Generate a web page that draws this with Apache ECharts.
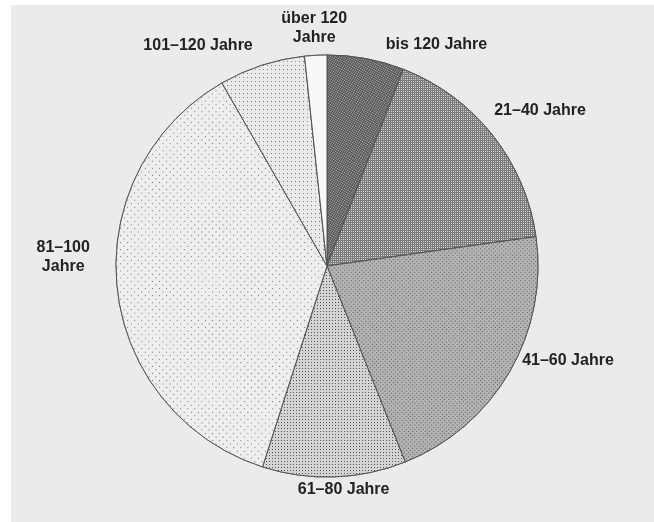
<!DOCTYPE html>
<html>
<head>
<meta charset="utf-8">
<script src="https://cdn.jsdelivr.net/npm/echarts@6/dist/echarts.min.js"></script>
<style>
  html, body { margin: 0; padding: 0; background: #ffffff; }
  #chart { position: absolute; left: 11px; top: 5px; width: 643px; height: 517px; background: #ebebeb; }
</style>
</head>
<body>
<div id="chart"></div>
<script>
// Data
var categories = ['bis 120 Jahre', '21\u201340 Jahre', '41\u201360 Jahre', '61\u201380 Jahre', '81\u2013100\nJahre', '101\u2013120 Jahre', '\u00fcber 120\nJahre'];
var shares = [5.9, 16.9, 21.2, 11.0, 36.8, 6.6, 1.7];

// Styling (not data)
var fills = ['#555555', '#7a7a7a', '#b4b4b4', '#d4d4d4', '#eeeeee', '#ebebeb', '#f8f8f8'];
var dotColors = ['#bbbbbb', '#d8d8d8', '#555555', '#555555', '#777777', '#888888', null];
var dotGaps = [1, 1, 2, 2, 4, 3, 0];
var labelShift = [[13, -4], [-11, -18], [-1, -16], [4, 3], [-39, -32], [-1, -10], [4, -17]];
var labelAligns = ['left', 'left', 'left', 'center', 'center', 'right', 'center'];

var data = categories.map(function (name, i) {
  var item = {
    name: name,
    value: shares[i],
    itemStyle: { color: fills[i] }
  };
  if (dotColors[i]) {
    item.itemStyle.decal = {
      symbol: 'rect',
      symbolSize: 1,
      color: dotColors[i],
      backgroundColor: fills[i],
      dashArrayX: [1, dotGaps[i]],
      dashArrayY: [1, dotGaps[i]]
    };
  } else {
    item.itemStyle.decal = { symbol: 'none', backgroundColor: fills[i], color: 'rgba(0,0,0,0)' };
  }
  return item;
});

var chart = echarts.init(document.getElementById('chart'), null, { renderer: 'canvas' });
chart.setOption({
  backgroundColor: '#ebebeb',
  animation: false,
  aria: { enabled: true, decal: { show: true } },
  series: [{
    type: 'pie',
    center: [316, 261],
    radius: 211,
    startAngle: 90,
    clockwise: true,
    avoidLabelOverlap: false,
    data: data,
    itemStyle: { borderColor: '#4d5555', borderWidth: 1 },
    label: {
      show: true,
      position: 'outside',
      color: '#222222',
      fontFamily: 'Liberation Sans, Arial, sans-serif',
      fontWeight: 'bold',
      fontSize: 16,
      lineHeight: 19
    },
    labelLine: { show: false, length: 10, length2: 0 },
    labelLayout: function (params) {
      var i = params.dataIndex;
      return { dx: labelShift[i][0], dy: labelShift[i][1], align: labelAligns[i] };
    },
    emphasis: { disabled: true }
  }]
});
</script>
</body>
</html>
